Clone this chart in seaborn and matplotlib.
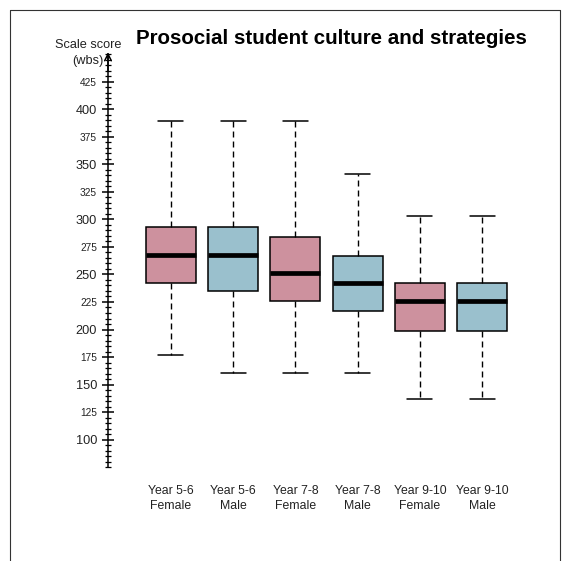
import matplotlib
matplotlib.use("Agg")
import matplotlib.pyplot as plt
from matplotlib.lines import Line2D
from matplotlib.ticker import MultipleLocator
import numpy as np
import pandas as pd
import seaborn as sns

# Five-number summaries per group (scale score, wbs)
groups = ["Year 5-6\nFemale", "Year 5-6\nMale", "Year 7-8\nFemale",
          "Year 7-8\nMale", "Year 9-10\nFemale", "Year 9-10\nMale"]
whisker_low = [177, 161, 161, 161, 137, 137]
quartile_1 = [242, 235, 226, 217, 199, 199]
medians = [268, 268, 251, 242, 226, 226]
quartile_3 = [293, 293, 284, 267, 242, 242]
whisker_high = [389, 389, 389, 341, 303, 303]
box_colors = ["#CD919E", "#9AC0CD", "#CD919E", "#9AC0CD", "#CD919E", "#9AC0CD"]

y_major = [100, 125, 150, 175, 200, 225, 250, 275, 300, 325, 350, 375, 400, 425]

# Long table: five summary points per group reproduce the quartiles exactly
rows = []
for g, lo, q1, md, q3, hi in zip(groups, whisker_low, quartile_1, medians, quartile_3, whisker_high):
    for v in (lo, q1, md, q3, hi):
        rows.append({"group": g, "score": v})
df = pd.DataFrame(rows)

sns.set_theme(style="white")
plt.rcParams["font.family"] = ["Liberation Sans", "DejaVu Sans"]

W, H = 578, 561
fig = plt.figure(figsize=(W / 100, H / 100), dpi=100)
ax = fig.add_axes([108 / W, 1 - 467.3 / H, (532 - 108) / W, (467.3 - 54) / H])

sns.boxplot(
    data=df, x="group", y="score", hue="group", palette=box_colors,
    order=groups, hue_order=groups, legend=False, ax=ax,
    whis=(0, 100), width=0.8, showfliers=False, saturation=1,
    linecolor="black", linewidth=1.1,
    boxprops=dict(edgecolor="black", linewidth=1.1),
    medianprops=dict(color="black", linewidth=3.4),
    whiskerprops=dict(color="black", linewidth=1.0, linestyle=(0, (4.3, 2.9))),
    capprops=dict(color="black", linewidth=1.1),
)

ax.set_xlim(-1.008, 5.8)
ax.set_ylim(75, 450)

for s in ("top", "right", "bottom"):
    ax.spines[s].set_visible(False)
ax.spines["left"].set_color("black")
ax.spines["left"].set_linewidth(1.1)

ax.yaxis.set_major_locator(MultipleLocator(25))
ax.yaxis.set_minor_locator(MultipleLocator(5))
ax.set_yticks(y_major)
ax.set_yticklabels([str(v) for v in y_major])
ax.tick_params(axis="y", which="major", direction="inout", length=8, width=1.1,
               color="black", pad=4, left=True, labelcolor="#222222")
ax.tick_params(axis="y", which="minor", direction="inout", length=5, width=0.9,
               color="black", left=True)
for lbl, v in zip(ax.get_yticklabels(), y_major):
    lbl.set_fontsize(9.2 if v % 50 == 0 else 7.3)

ax.tick_params(axis="x", length=0, pad=13, labelsize=8.8, labelcolor="#222222")
for lbl in ax.get_xticklabels():
    lbl.set_linespacing(1.25)
ax.set_xlabel("")
ax.set_ylabel("")

# Arrowhead at the top of the y axis
ax.annotate("", xy=(0, 1.004), xytext=(0, 0.96), xycoords="axes fraction",
            arrowprops=dict(arrowstyle="->", lw=1.1, color="black",
                            mutation_scale=12, shrinkA=0, shrinkB=0))

fig.text(88.3 / W, 1 - 53 / H, "Scale score\n(wbs)", ha="center", va="center",
         fontsize=9.2, linespacing=1.4, color="#222222")
fig.text(331 / W, 1 - 38 / H, "Prosocial student culture and strategies",
         ha="center", va="center", fontsize=14.8, fontweight="bold", color="black")

# Thin frame around the chart area
frame = dict(color="#333333", linewidth=0.8, transform=fig.transFigure)
fig.add_artist(Line2D([10 / W, 10 / W], [0, 1 - 10 / H], **frame))
fig.add_artist(Line2D([10 / W, 560 / W], [1 - 10 / H, 1 - 10 / H], **frame))
fig.add_artist(Line2D([560 / W, 560 / W], [0, 1 - 10 / H], **frame))

fig.savefig("out.png", dpi=100, facecolor="white")
